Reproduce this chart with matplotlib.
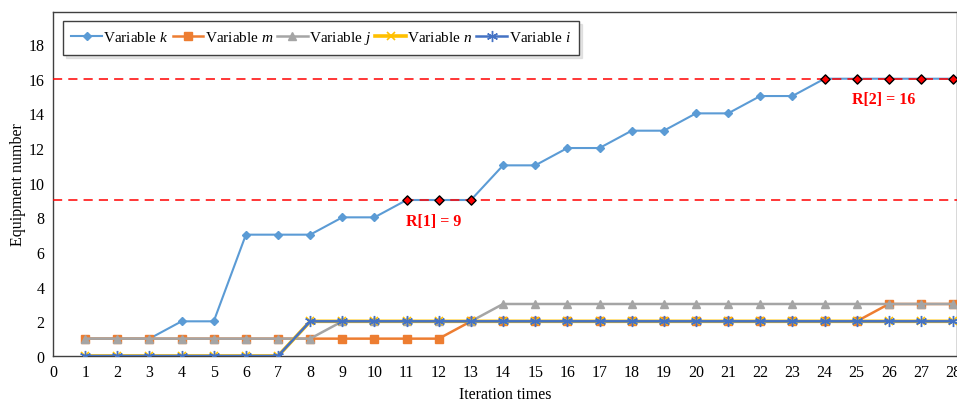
import matplotlib
matplotlib.use("Agg")
import matplotlib.pyplot as plt

plt.rcParams['font.family'] = ['Liberation Serif', 'DejaVu Serif']
plt.rcParams['mathtext.fontset'] = 'custom'
plt.rcParams['mathtext.it'] = 'Liberation Serif:italic'
plt.rcParams['mathtext.rm'] = 'Liberation Serif'

# dati
iterations = list(range(1, 29))
var_k = [1, 1, 1, 2, 2, 7, 7, 7, 8, 8, 9, 9, 9, 11, 11, 12, 12, 13, 13, 14,
         14, 15, 15, 16, 16, 16, 16, 16]
var_m = [1, 1, 1, 1, 1, 1, 1, 1, 1, 1, 1, 1, 2, 2, 2, 2, 2, 2, 2, 2,
         2, 2, 2, 2, 2, 3, 3, 3]
var_j = [1, 1, 1, 1, 1, 1, 1, 1, 2, 2, 2, 2, 2, 3, 3, 3, 3, 3, 3, 3,
         3, 3, 3, 3, 3, 3, 3, 3]
var_n = [0, 0, 0, 0, 0, 0, 0, 2, 2, 2, 2, 2, 2, 2, 2, 2, 2, 2, 2, 2,
         2, 2, 2, 2, 2, 2, 2, 2]
var_i = [0, 0, 0, 0, 0, 0, 0, 2, 2, 2, 2, 2, 2, 2, 2, 2, 2, 2, 2, 2,
         2, 2, 2, 2, 2, 2, 2, 2]

# punti evidenziati e soglie
r1_x = [11, 12, 13]
r1_y = [9, 9, 9]
r2_x = [24, 25, 26, 27, 28]
r2_y = [16, 16, 16, 16, 16]
thresholds = [9, 16]
labels_r = ["R[1] = 9", "R[2] = 16"]
labels_pos = [(11.85, 7.8), (25.85, 14.8)]

x_ticks = list(range(0, 29))
y_ticks = list(range(0, 19, 2))

fig = plt.figure(figsize=(9.57, 4.02), dpi=100)
ax = fig.add_axes([0.0554, 0.112, 0.9446, 0.8557])

ax.plot(iterations, var_k, color='#5B9BD5', lw=1.5, marker='D', ms=4,
        label=r'Variable $\mathit{k}$', zorder=3)
ax.plot(iterations, var_m, color='#ED7D31', lw=1.8, marker='s', ms=5.5,
        label=r'Variable $\mathit{m}$', zorder=3)
ax.plot(iterations, var_j, color='#A5A5A5', lw=1.8, marker='^', ms=6,
        label=r'Variable $\mathit{j}$', zorder=3)
ax.plot(iterations, var_n, color='#FFC000', lw=2.6, marker='x', ms=6, mew=1.2,
        label=r'Variable $\mathit{n}$', zorder=3)
ax.plot(iterations, var_i, color='#4472C4', lw=1.8, marker=(6, 2, 0), ms=8, mew=1.0,
        label=r'Variable $\mathit{i}$', zorder=3)

for y in thresholds:
    ax.axhline(y, color='#FF0000', lw=1.1, dashes=(6, 4), zorder=4)

ax.scatter(r1_x, r1_y, marker='D', s=22, color='#FF0000', edgecolors='black',
           linewidths=1.0, zorder=5)
ax.scatter(r2_x, r2_y, marker='D', s=22, color='#FF0000', edgecolors='black',
           linewidths=1.0, zorder=5)

for txt, (tx, ty) in zip(labels_r, labels_pos):
    ax.text(tx, ty, txt, color='#FF0000', fontsize=11.5, fontweight='bold',
            ha='center', va='center')

ax.set_xlim(0, 28.12)
ax.set_ylim(0, 19.85)
ax.set_xticks(x_ticks)
ax.set_yticks(y_ticks)
ax.tick_params(length=0, labelsize=11.5, pad=6)
for s in ax.spines.values():
    s.set_color('#404040')
    s.set_linewidth(1.0)

ax.set_xlabel("Iteration times", fontsize=11.5, labelpad=4)
ax.set_ylabel("Equipment number", fontsize=11.5, labelpad=2)

leg = ax.legend(loc='upper left', bbox_to_anchor=(0.011, 0.974), ncol=5,
                fontsize=11, frameon=True, fancybox=False, edgecolor='#404040',
                handlelength=2.0, handletextpad=0.1, columnspacing=0.25,
                borderpad=0.55, borderaxespad=0,
                shadow={'color': '0.8', 'ox': 2, 'oy': -2})
leg.get_frame().set_linewidth(1.0)

fig.savefig("out.png", dpi=100)
